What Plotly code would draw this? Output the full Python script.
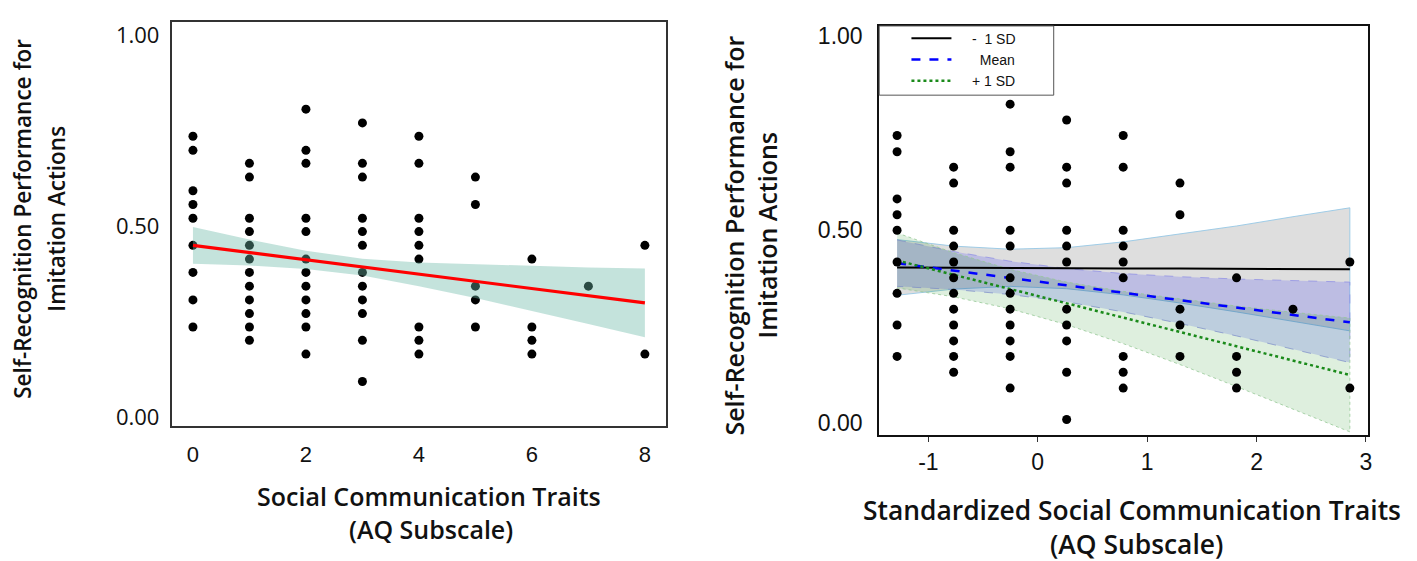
import plotly.graph_objects as go

W, H = 1417, 561

# ---------------- Left panel: raw AQ social communication scores ----------------
aq_levels = [0, 1, 2, 3, 4, 5, 6, 7, 8]
perf_aq0 = [0.736, 0.699, 0.593, 0.557, 0.521, 0.450, 0.379, 0.307, 0.236]
perf_aq1 = [0.665, 0.629, 0.521, 0.486, 0.450, 0.414, 0.379, 0.343, 0.307, 0.271, 0.236, 0.201]
perf_aq2 = [0.807, 0.699, 0.665, 0.521, 0.486, 0.414, 0.379, 0.343, 0.307, 0.271, 0.236, 0.165]
perf_aq3 = [0.771, 0.665, 0.629, 0.521, 0.486, 0.450, 0.379, 0.343, 0.307, 0.271, 0.201, 0.093]
perf_aq4 = [0.736, 0.665, 0.521, 0.486, 0.450, 0.414, 0.236, 0.201, 0.165]
perf_aq5 = [0.629, 0.557, 0.343, 0.307, 0.236]
perf_aq6 = [0.414, 0.236, 0.201, 0.165]
perf_aq7 = [0.343]
perf_aq8 = [0.450, 0.165]
left_columns = [perf_aq0, perf_aq1, perf_aq2, perf_aq3, perf_aq4,
                perf_aq5, perf_aq6, perf_aq7, perf_aq8]

left_fit_x = [0, 1, 2, 3, 4, 5, 6, 7, 8]
left_fit_y = [0.450, 0.431, 0.412, 0.393, 0.374, 0.356, 0.337, 0.318, 0.299]
left_ci_lo = [0.402, 0.397, 0.388, 0.371, 0.343, 0.312, 0.278, 0.244, 0.209]
left_ci_hi = [0.498, 0.465, 0.436, 0.415, 0.405, 0.400, 0.396, 0.392, 0.389]

# ---------------- Right panel: standardized scores ----------------
z_levels = [-1.286, -0.769, -0.2525, 0.264, 0.781, 1.300, 1.817, 2.333, 2.853]
perf_z0 = [0.743, 0.701, 0.579, 0.538, 0.498, 0.416, 0.335, 0.253, 0.172]
perf_z1 = [0.661, 0.620, 0.498, 0.457, 0.416, 0.375, 0.335, 0.294, 0.253, 0.212, 0.172, 0.131]
perf_z2 = [0.824, 0.701, 0.661, 0.498, 0.457, 0.375, 0.335, 0.294, 0.253, 0.212, 0.172, 0.090]
perf_z3 = [0.783, 0.661, 0.620, 0.498, 0.457, 0.416, 0.294, 0.253, 0.212, 0.131, 0.009]
perf_z4 = [0.743, 0.661, 0.498, 0.457, 0.416, 0.375, 0.172, 0.131, 0.090]
perf_z5 = [0.620, 0.538, 0.294, 0.253, 0.172]
perf_z6 = [0.375, 0.172, 0.131, 0.090]
perf_z7 = [0.294]
perf_z8 = [0.416, 0.090]
right_columns = [perf_z0, perf_z1, perf_z2, perf_z3, perf_z4,
                 perf_z5, perf_z6, perf_z7, perf_z8]

slope_x = z_levels
low_sd_y = [0.402, 0.401, 0.401, 0.400, 0.399, 0.399, 0.398, 0.398, 0.397]
low_sd_hi = [0.474, 0.457, 0.449, 0.453, 0.468, 0.488, 0.509, 0.533, 0.556]
low_sd_lo = [0.330, 0.346, 0.353, 0.347, 0.331, 0.310, 0.287, 0.263, 0.238]
mean_y = [0.413, 0.394, 0.375, 0.356, 0.337, 0.317, 0.298, 0.279, 0.260]
mean_hi = [0.473, 0.443, 0.418, 0.399, 0.386, 0.378, 0.372, 0.368, 0.364]
mean_lo = [0.353, 0.345, 0.332, 0.313, 0.287, 0.257, 0.225, 0.191, 0.156]
high_sd_y = [0.420, 0.383, 0.346, 0.309, 0.272, 0.235, 0.198, 0.161, 0.124]
high_sd_hi = [0.491, 0.440, 0.397, 0.364, 0.340, 0.320, 0.302, 0.286, 0.271]
high_sd_lo = [0.349, 0.326, 0.295, 0.254, 0.205, 0.151, 0.094, 0.036, -0.023]

y_ticks = [0.0, 0.5, 1.0]
y_ticktext = ["0.00", "0.50", "1.00"]
left_x_ticks = [0, 2, 4, 6, 8]
right_x_ticks = [-1, 0, 1, 2, 3]
right_x_ticktext = ["-1", "0", "1", "2", "3"]

NB = "\u00a0"
legend_names = [NB * 4 + "-" + NB * 2 + "1 SD", NB * 6 + "Mean", NB * 4 + "+ 1 SD"]


def flatten(levels, columns):
    xs, ys = [], []
    for lv, col in zip(levels, columns):
        for v in col:
            xs.append(lv)
            ys.append(v)
    return xs, ys


fig = go.Figure()

# ---- left panel traces ----
lx, ly = flatten(aq_levels, left_columns)
fig.add_trace(go.Scatter(x=lx, y=ly, mode="markers", showlegend=False,
                         marker=dict(color="black", size=9),
                         xaxis="x", yaxis="y"))
fig.add_trace(go.Scatter(x=left_fit_x + left_fit_x[::-1],
                         y=left_ci_hi + left_ci_lo[::-1],
                         fill="toself", fillcolor="rgba(108,184,168,0.40)",
                         line=dict(width=0), mode="lines", showlegend=False,
                         hoverinfo="skip", xaxis="x", yaxis="y"))
fig.add_trace(go.Scatter(x=left_fit_x, y=left_fit_y, mode="lines",
                         line=dict(color="#ff0000", width=3.2), showlegend=False,
                         xaxis="x", yaxis="y"))

# ---- right panel bands ----
bands = [
    (low_sd_hi, low_sd_lo, "rgba(128,128,128,0.26)", "rgba(150,200,230,0.9)", "solid"),
    (mean_hi, mean_lo, "rgba(0,0,255,0.15)", "rgba(140,140,230,0.7)", "dash"),
    (high_sd_hi, high_sd_lo, "rgba(0,128,0,0.13)", "rgba(150,200,150,0.8)", "dot"),
]
for hi, lo, fc, lc, dash in bands:
    fig.add_trace(go.Scatter(x=slope_x + slope_x[::-1], y=hi + lo[::-1],
                             fill="toself", fillcolor=fc, mode="lines",
                             line=dict(color=lc, width=1, dash=dash),
                             showlegend=False, hoverinfo="skip",
                             xaxis="x2", yaxis="y2"))

fig.add_trace(go.Scatter(x=slope_x, y=low_sd_y, mode="lines", name=legend_names[0],
                         line=dict(color="black", width=2),
                         xaxis="x2", yaxis="y2"))
fig.add_trace(go.Scatter(x=slope_x, y=mean_y, mode="lines", name=legend_names[1],
                         line=dict(color="#0000ff", width=2.5, dash="dash"),
                         xaxis="x2", yaxis="y2"))
fig.add_trace(go.Scatter(x=slope_x, y=high_sd_y, mode="lines", name=legend_names[2],
                         line=dict(color="#1a8a1a", width=2.5, dash="dot"),
                         xaxis="x2", yaxis="y2"))

rx, ry = flatten(z_levels, right_columns)
fig.add_trace(go.Scatter(x=rx, y=ry, mode="markers", showlegend=False,
                         marker=dict(color="black", size=9),
                         xaxis="x2", yaxis="y2"))

# ---- layout ----
def px_x(p):
    return p / W


def px_y(p):
    return 1 - p / H


left_ytitle_font = dict(family="Open Sans", size=22.5, color="#111111", weight=600)
left_xtitle_font = dict(family="Open Sans", size=25, color="#111111", weight=600)
right_ytitle_font = dict(family="Open Sans", size=25, color="#111111", weight=600)
right_xtitle_font = dict(family="Open Sans", size=26.4, color="#111111", weight=600)


def ann(text, x, y, font, angle=0):
    return dict(text=text, x=px_x(x), y=px_y(y), xref="paper", yref="paper",
                xanchor="center", yanchor="middle", textangle=angle,
                showarrow=False, font=font)


fig.update_layout(
    width=W, height=H,
    margin=dict(l=0, r=0, t=0, b=0),
    paper_bgcolor="white", plot_bgcolor="white",
    xaxis=dict(domain=[px_x(172.3), px_x(668.3)], range=[-0.374, 8.381],
               tickvals=left_x_ticks, showgrid=False, zeroline=False,
               showline=True, mirror=True, linecolor="#333333", linewidth=2,
               ticks="", ticklabelstandoff=8,
               tickfont=dict(family="Liberation Sans", size=22, color="#111111"),
               anchor="y"),
    yaxis=dict(domain=[px_y(429), px_y(19)], range=[-0.0233, 1.0362],
               tickvals=y_ticks, ticktext=y_ticktext, showgrid=False, zeroline=False,
               showline=True, mirror=True, linecolor="#333333", linewidth=2,
               ticks="", ticklabelstandoff=6,
               tickfont=dict(family="Open Sans", size=22, color="#111111"),
               anchor="x"),
    xaxis2=dict(domain=[px_x(881.7), px_x(1371.7)], range=[-1.4494, 3.0173],
                tickvals=right_x_ticks, ticktext=right_x_ticktext,
                showgrid=False, zeroline=False,
                showline=True, mirror=True, linecolor="#111111", linewidth=2,
                ticks="outside", ticklen=5, tickcolor="#333333",
                tickfont=dict(family="Liberation Sans", size=23, color="#111111"),
                anchor="y2"),
    yaxis2=dict(domain=[px_y(438.3), px_y(23.3)], range=[-0.0313, 1.026],
                tickvals=y_ticks, ticktext=y_ticktext, showgrid=False, zeroline=False,
                showline=True, mirror=True, linecolor="#111111", linewidth=2,
                ticks="", ticklabelstandoff=10,
                tickfont=dict(family="Liberation Sans", size=23, color="#111111"),
                anchor="x2"),
    legend=dict(x=px_x(909), y=px_y(20), xanchor="left", yanchor="top",
                bgcolor="rgba(0,0,0,0)", borderwidth=0, itemwidth=40,
                font=dict(family="Liberation Sans", size=14, color="#111111"),
                tracegroupgap=0),
    shapes=[dict(type="rect", xref="paper", yref="paper",
                 x0=px_x(881.7), x1=px_x(1056.7), y0=px_y(93.5), y1=px_y(23.3),
                 line=dict(color="#555555", width=1), fillcolor="white",
                 layer="above")],
    annotations=[
        ann("Self-Recognition Performance for", 23, 219, left_ytitle_font, -90),
        ann("Imitation Actions", 57, 219, left_ytitle_font, -90),
        ann("Self-Recognition Performance for", 736, 236, right_ytitle_font, -90),
        ann("Imitation Actions", 769, 236, right_ytitle_font, -90),
        ann("Social Communication Traits", 430, 500, left_xtitle_font),
        ann("(AQ Subscale)", 432, 534, left_xtitle_font),
        ann("Standardized Social Communication Traits", 1135, 514, right_xtitle_font),
        ann("(AQ Subscale)", 1140, 549, right_xtitle_font),
    ],
)

fig.write_html("out.html")
